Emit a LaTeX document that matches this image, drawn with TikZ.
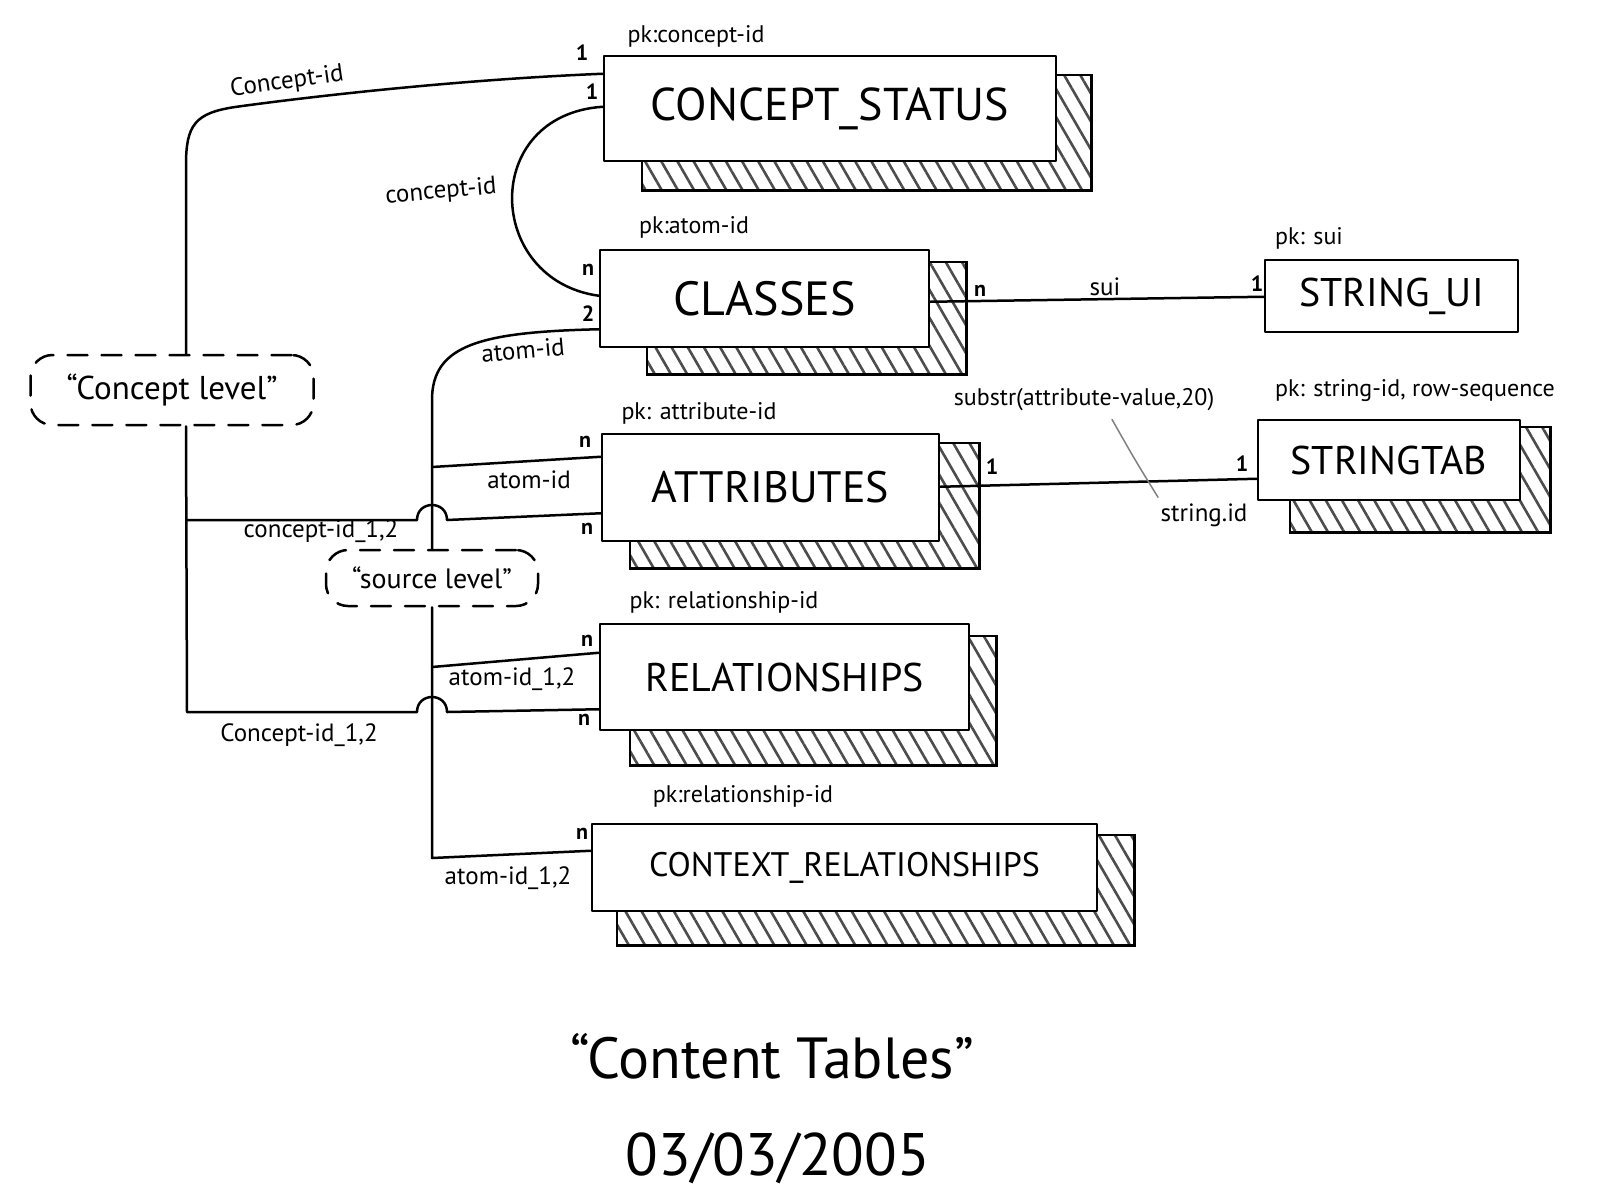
\documentclass[tikz,border=0pt]{standalone}
\usepackage{fontspec}
\setmainfont{PT Sans}
\usetikzlibrary{calc,patterns.meta,backgrounds}
\begin{document}
\begin{tikzpicture}[x=1pt,y=-1pt,
  line width=2.5pt, line cap=round, line join=round,
  tbl/.style={draw, fill=white, line width=2.5pt, inner sep=0pt, align=center},
  shd/.style={draw, line width=2.5pt, pattern={Lines[angle=-60,distance=14pt,line width=2.6pt]}, pattern color=black!70},
  lbl/.style={inner sep=1pt, font=\fontsize{25}{27}\selectfont},
  pk/.style={inner sep=1pt, font=\fontsize{24}{26}\selectfont},
  card/.style={inner sep=1pt, font=\bfseries\fontsize{22}{24}\selectfont},
  bubble/.style={draw, dash pattern=on 20pt off 14pt, rounded corners=22pt, line width=2.5pt, inner sep=0pt},
  lead/.style={draw=gray, line width=1.5pt}]
\useasboundingbox (0,0) rectangle (1600,1200);

% tables
\node[tbl, minimum width=452pt, minimum height=105pt, font=\fontsize{46}{48}\selectfont] (cs) at (830,108.5) {CONCEPT\_STATUS};
\node[tbl, minimum width=329pt, minimum height=97pt, font=\fontsize{48}{50}\selectfont] (cl) at (764.5,298.5) {CLASSES};
\node[tbl, minimum width=253pt, minimum height=72pt, font=\fontsize{40}{42}\selectfont] (sui) at (1391.5,296) {STRING\_UI};
\node[tbl, minimum width=337pt, minimum height=107pt, font=\fontsize{44}{46}\selectfont] (at) at (770.5,487.5) {ATTRIBUTES};
\node[tbl, minimum width=262pt, minimum height=80pt, font=\fontsize{40}{42}\selectfont] (st) at (1389,460) {STRINGTAB};
\node[tbl, minimum width=369pt, minimum height=106pt, font=\fontsize{40}{42}\selectfont] (rel) at (784.5,677) {RELATIONSHIPS};
\node[tbl, minimum width=505pt, minimum height=87pt, font=\fontsize{34}{36}\selectfont] (crel) at (844.5,867.5) {CONTEXT\_RELATIONSHIPS};

% level bubbles
\node[bubble, minimum width=283pt, minimum height=70pt, font=\fontsize{33}{35}\selectfont] (clv) at (172,390) {“Concept level”};
\node[bubble, minimum width=212pt, minimum height=56pt, font=\fontsize{28}{30}\selectfont] (slv) at (432,578) {“source level”};

% shadows
\begin{scope}[on background layer]
\draw[shd] ($(cs.north west)+(39,20)$) rectangle ($(cs.south east)+(34,28)$);
\draw[shd] ($(cl.north west)+(48,13)$) rectangle ($(cl.south east)+(36,26)$);
\draw[shd] ($(at.north west)+(29,10)$) rectangle ($(at.south east)+(39,26)$);
\draw[shd] ($(st.north west)+(33,8)$) rectangle ($(st.south east)+(29,31)$);
\draw[shd] ($(rel.north west)+(31,13)$) rectangle ($(rel.south east)+(26,34)$);
\draw[shd] ($(crel.north west)+(26,12)$) rectangle ($(crel.south east)+(36,33)$);
\end{scope}

% junction coordinates
\coordinate (j0) at (187,520);
\coordinate (j1) at (432,467);
\coordinate (j2) at (432,667);

% connectors
\draw ($(cs.north west)+(0,19)$) .. controls (450,80) and (300,98) .. (235,107)
      .. controls (195,113) and (186,125) .. (186,165) -- ($(clv.north)+(14,0)$);
\draw ($(clv.south)+(14,0)$) -- (187,712) -- (417,712) .. controls (417,692) and (447,692) .. (447,712)
      -- ($(rel.south west)+(0,-22)$);
\draw (j0) -- (417,520) .. controls (417,500) and (447,500) .. (447,520) -- ($(at.south west)+(0,-29)$);
\draw ($(cs.north west)+(0,52)$) .. controls (480,115) and (485,280) .. ($(cl.north west)+(0,47)$);
\draw ($(cl.south west)+(0,-19)$) .. controls (480,332) and (432,345) .. (432,400) -- (slv.north);
\draw (j1) -- ($(at.north west)+(0,24)$);
\draw (slv.south) -- (432,858) -- ($(crel.north west)+(0,28)$);
\draw (j2) -- ($(rel.north west)+(0,30)$);
\draw ($(cl.north east)+(0,53)$) -- ($(sui.north west)+(0,38)$);
\draw ($(at.north east)+(0,54)$) -- ($(st.north west)+(0,60)$);

% connector labels
\node[lbl, rotate=8] (l1) at (287,82) {Concept-id};
\node[lbl, rotate=5] (l2) at (441,192) {concept-id};
\node[lbl, rotate=5] (l3) at (523,350) {atom-id};
\node[lbl] (l4) at (529,480) {atom-id};
\node[lbl] (l5) at (321,531) {concept-id\_1,2};
\node[lbl] (l6) at (512,679) {atom-id\_1,2};
\node[lbl] (l7) at (299,735) {Concept-id\_1,2};
\node[lbl] (l8) at (508,878) {atom-id\_1,2};
\node[lbl, anchor=south] (l9) at (1105,298) {sui};
\node[pk] (sub) at (1084,400) {substr(attribute-value,20)};
\node[lbl] (sid) at (1204,515) {string.id};
\draw[lead] ($(sub.south)+(28,6)$) .. controls (1135,460) .. ($(sid.north)+(-46,-4)$);

% primary keys
\node[pk] (pk1) at (696,36) {pk:concept-id};
\node[pk] (pk2) at (694,227) {pk:atom-id};
\node[pk] (pk3) at (699,413) {pk: attribute-id};
\node[pk] (pk4) at (1309,238) {pk: sui};
\node[pk] (pk5) at (1415,391) {pk: string-id, row-sequence};
\node[pk] (pk6) at (724,602) {pk: relationship-id};
\node[pk] (pk7) at (743,796) {pk:relationship-id};

% cardinalities
\node[card] (c1) at (582,53) {1};
\node[card] (c2) at (592,92) {1};
\node[card] (c3) at (588,270) {n};
\node[card] (c4) at (588,314) {2};
\node[card] (c5) at (585,442) {n};
\node[card] (c6) at (587,529) {n};
\node[card] (c7) at (587,641) {n};
\node[card] (c8) at (584,720) {n};
\node[card] (c9) at (582,834) {n};
\node[card, anchor=south] (c10) at (980,299) {n};
\node[card] (c11) at (1257,284) {1};
\node[card] (c12) at (992,467) {1};
\node[card] (c13) at (1242,464) {1};

% title
\node[font=\fontsize{58}{60}\selectfont] (title) at (772,1056) {“Content Tables”};
\node[font=\fontsize{60}{62}\selectfont] (date) at (778,1158) {03/03/2005};
\end{tikzpicture}
\end{document}
